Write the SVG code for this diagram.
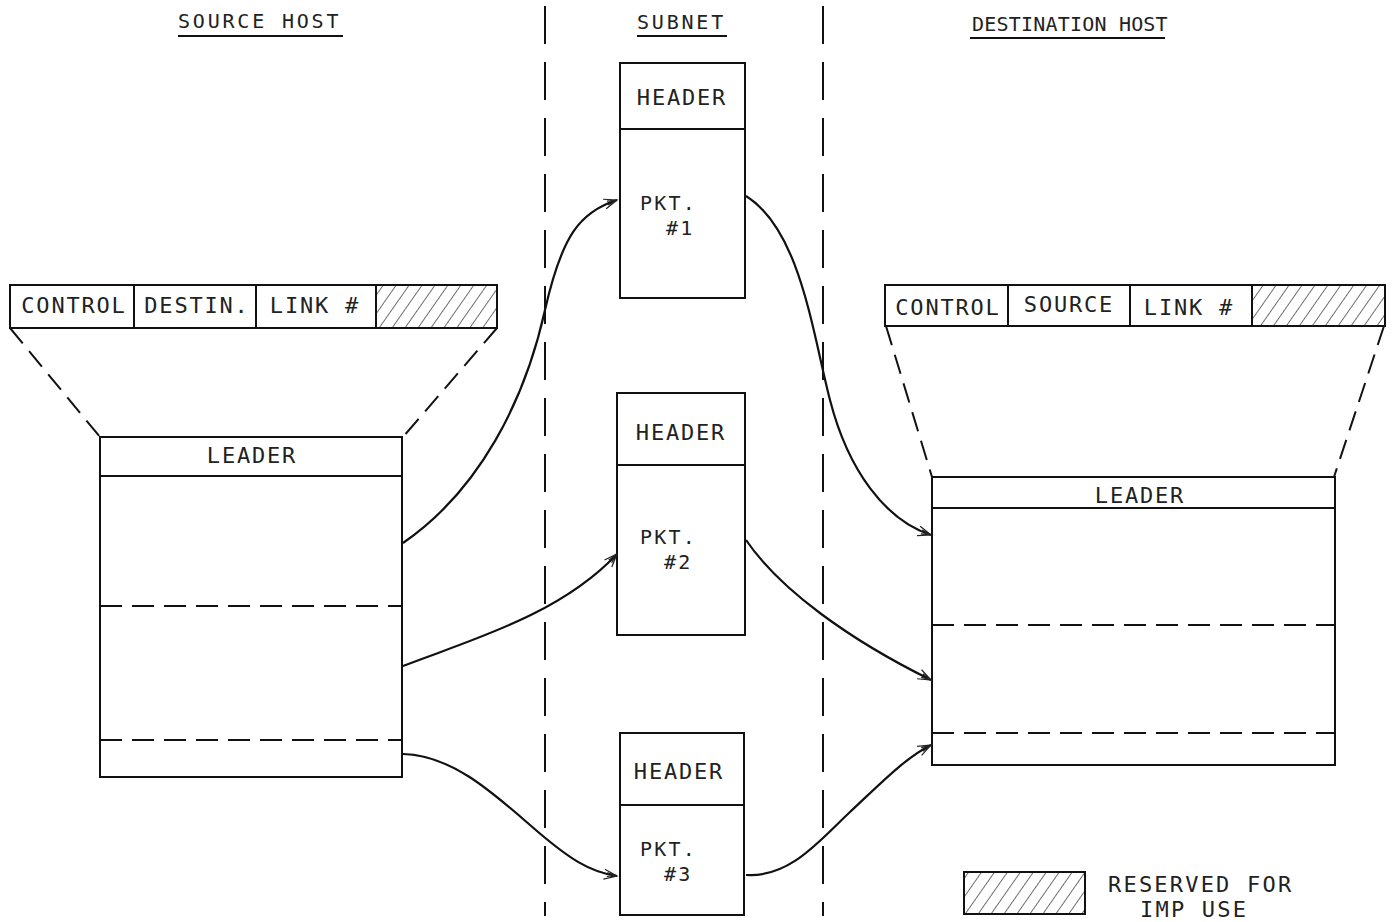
<svg xmlns="http://www.w3.org/2000/svg" width="1396" height="922" viewBox="0 0 1396 922">
<defs>
<pattern id="hatch" patternUnits="userSpaceOnUse" width="10.6" height="10.6" patternTransform="rotate(35)">
<line x1="0" y1="0" x2="0" y2="10.6" stroke="#222" stroke-width="1.3"/>
</pattern>
<marker id="arr" markerWidth="16" markerHeight="12" refX="14" refY="6" orient="auto" markerUnits="userSpaceOnUse">
<path d="M1,1 L14,6 L1,11 M4,4 L12,6 L4,8" fill="none" stroke="#222" stroke-width="1.2"/>
</marker>
</defs>
<style>
.t{font-family:"DejaVu Sans Mono","Liberation Mono",monospace;font-size:22px;fill:#222;letter-spacing:1.8px}
.p{font-family:"DejaVu Sans Mono","Liberation Mono",monospace;font-size:20px;fill:#222;letter-spacing:2.2px}
.ti{font-family:"DejaVu Sans Mono","Liberation Mono",monospace;font-size:20px;fill:#222}
.box{fill:#fff;stroke:#111;stroke-width:2}
.ln{stroke:#111;stroke-width:2;fill:none}
.dh{stroke:#111;stroke-width:2;fill:none;stroke-dasharray:22 10}
.dv{stroke:#111;stroke-width:2;fill:none;stroke-dasharray:38 18}
.dt{stroke:#111;stroke-width:2;fill:none;stroke-dasharray:20 10}
.hat{fill:url(#hatch);stroke:#111;stroke-width:2}
.c{stroke:#111;stroke-width:2.2;fill:none;marker-end:url(#arr)}
</style>
<rect width="1396" height="922" fill="#fff"/>

<g id="titles">
<text class="ti" x="178" y="28" style="letter-spacing:2.8px">SOURCE HOST</text>
<line class="ln" x1="178" y1="36" x2="343" y2="36" stroke-width="1.5"/>
<text class="ti" x="637" y="29" style="letter-spacing:2.8px">SUBNET</text>
<line class="ln" x1="637" y1="36" x2="727" y2="36" stroke-width="1.5"/>
<text class="ti" x="972" y="31" style="letter-spacing:0.2px">DESTINATION HOST</text>
<line class="ln" x1="970" y1="38" x2="1165" y2="38" stroke-width="1.5"/>
</g>

<g id="dividers">
<line class="dv" x1="545" y1="6" x2="545" y2="916"/>
<line class="dv" x1="823" y1="6" x2="823" y2="916"/>
</g>

<g id="source-leader-fields">
<rect class="box" x="10" y="285" width="487" height="43"/>
<rect class="hat" x="376" y="285" width="121" height="43"/>
<line class="ln" x1="134" y1="285" x2="134" y2="328"/>
<line class="ln" x1="256" y1="285" x2="256" y2="328"/>
<text class="t" x="74" y="313" text-anchor="middle">CONTROL</text>
<text class="t" x="197" y="313" text-anchor="middle">DESTIN.</text>
<text class="t" x="315" y="313" text-anchor="middle">LINK #</text>
<line class="dt" x1="10" y1="328" x2="100" y2="437"/>
<line class="dt" x1="497" y1="328" x2="403" y2="437"/>
</g>

<g id="source-message">
<rect class="box" x="100" y="437" width="302" height="340"/>
<line class="ln" x1="100" y1="476" x2="402" y2="476"/>
<line class="dh" x1="100" y1="606" x2="402" y2="606"/>
<line class="dh" x1="100" y1="740" x2="402" y2="740"/>
<text class="t" x="252" y="463" text-anchor="middle">LEADER</text>
</g>

<g id="packet1">
<rect class="box" x="620" y="63" width="125" height="235"/>
<line class="ln" x1="620" y1="129" x2="745" y2="129"/>
<text class="t" x="682" y="105" text-anchor="middle">HEADER</text>
<text class="p" x="640" y="210">PKT.</text>
<text class="p" x="666" y="235">#1</text>
</g>

<g id="packet2">
<rect class="box" x="617" y="393" width="128" height="242"/>
<line class="ln" x1="617" y1="465" x2="745" y2="465"/>
<text class="t" x="681" y="440" text-anchor="middle">HEADER</text>
<text class="p" x="640" y="544">PKT.</text>
<text class="p" x="664" y="569">#2</text>
</g>

<g id="packet3">
<rect class="box" x="620" y="733" width="124" height="182"/>
<line class="ln" x1="620" y1="805" x2="744" y2="805"/>
<text class="t" x="679" y="779" text-anchor="middle">HEADER</text>
<text class="p" x="640" y="856">PKT.</text>
<text class="p" x="664" y="881">#3</text>
</g>

<g id="dest-leader-fields">
<rect class="box" x="885" y="285" width="500" height="41"/>
<rect class="hat" x="1252" y="285" width="133" height="41"/>
<line class="ln" x1="1008" y1="285" x2="1008" y2="326"/>
<line class="ln" x1="1130" y1="285" x2="1130" y2="326"/>
<text class="t" x="948" y="315" text-anchor="middle">CONTROL</text>
<text class="t" x="1069" y="312" text-anchor="middle">SOURCE</text>
<text class="t" x="1189" y="315" text-anchor="middle">LINK #</text>
<line class="dt" x1="886" y1="326" x2="932" y2="477"/>
<line class="dt" x1="1384" y1="326" x2="1334" y2="477"/>
</g>

<g id="dest-message">
<rect class="box" x="932" y="477" width="403" height="288"/>
<line class="ln" x1="932" y1="508" x2="1335" y2="508"/>
<line class="dh" x1="932" y1="625" x2="1335" y2="625"/>
<line class="dh" x1="932" y1="733" x2="1335" y2="733"/>
<text class="t" x="1140" y="503" text-anchor="middle">LEADER</text>
</g>

<g id="connectors">
<path class="c" d="M403,543 C480,490 525,400 545,310 C562,235 580,212 617,200"/>
<path class="c" d="M403,666 C470,640 560,615 617,554"/>
<path class="c" d="M403,754 C450,755 490,790 530,825 C570,860 590,872 617,876"/>
<path class="c" d="M746,196 C800,230 812,330 830,400 C848,470 885,520 931,535"/>
<path class="c" d="M746,540 C780,590 850,640 931,680"/>
<path class="c" d="M746,875 C790,878 820,840 850,812 C880,784 905,758 931,745"/>
</g>

<g id="legend">
<rect class="hat" x="964" y="872" width="121" height="42"/>
<text class="t" x="1108" y="892" style="letter-spacing:2.2px">RESERVED FOR</text>
<text class="t" x="1140" y="917" style="letter-spacing:2.2px">IMP USE</text>
</g>
</svg>
